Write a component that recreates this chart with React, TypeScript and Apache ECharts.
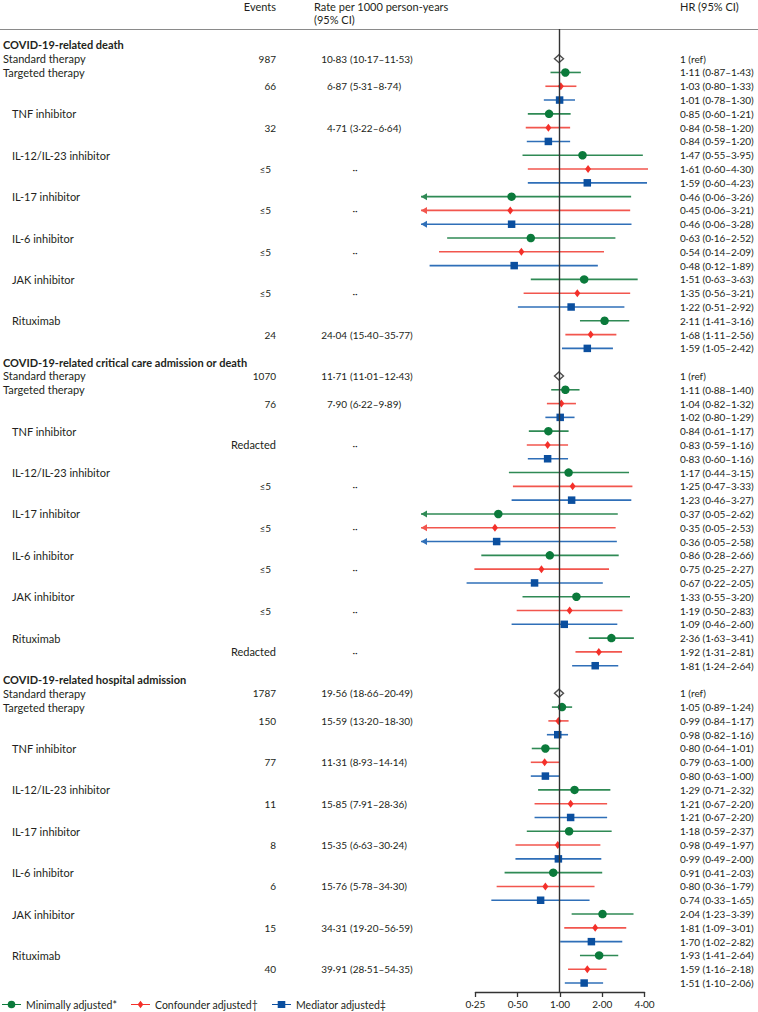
import React, { useEffect, useRef } from "react";
import * as echarts from "echarts";

const SECTIONS = [
  "COVID-19-related death",
  "COVID-19-related critical care admission or death",
  "COVID-19-related hospital admission",
];
const GROUPS = [
  "Targeted therapy",
  "TNF inhibitor",
  "IL-12/IL-23 inhibitor",
  "IL-17 inhibitor",
  "IL-6 inhibitor",
  "JAK inhibitor",
  "Rituximab",
];
const MODELS = ["Minimally adjusted*", "Confounder adjusted†", "Mediator adjusted‡"];

const STANDARD_EVENTS = ["987", "1070", "1787"];
const STANDARD_RATE = [
  [10.83, 10.17, 11.53],
  [11.71, 11.01, 12.43],
  [19.56, 18.66, 20.49],
];

const EVENTS_DEATH = ["66", "32", "≤5", "≤5", "≤5", "≤5", "24"];
const EVENTS_CRITICAL = ["76", "Redacted", "≤5", "≤5", "≤5", "≤5", "Redacted"];
const EVENTS_HOSPITAL = ["150", "77", "11", "8", "6", "15", "40"];

const RATE_DEATH = [[6.87, 5.31, 8.74], [4.71, 3.22, 6.64], null, null, null, null, [24.04, 15.4, 35.77]];
const RATE_CRITICAL = [[7.9, 6.22, 9.89], null, null, null, null, null, null];
const RATE_HOSPITAL = [
  [15.59, 13.2, 18.3],
  [11.31, 8.93, 14.14],
  [15.85, 7.91, 28.36],
  [15.35, 6.63, 30.24],
  [15.76, 5.78, 34.3],
  [34.31, 19.2, 56.59],
  [39.91, 28.51, 54.35],
];

// [HR, lower, upper] per group
const HR_DEATH_MIN = [[1.11, 0.87, 1.43], [0.85, 0.6, 1.21], [1.47, 0.55, 3.95], [0.46, 0.06, 3.26], [0.63, 0.16, 2.52], [1.51, 0.63, 3.63], [2.11, 1.41, 3.16]];
const HR_DEATH_CONF = [[1.03, 0.8, 1.33], [0.84, 0.58, 1.2], [1.61, 0.6, 4.3], [0.45, 0.06, 3.21], [0.54, 0.14, 2.09], [1.35, 0.56, 3.21], [1.68, 1.11, 2.56]];
const HR_DEATH_MED = [[1.01, 0.78, 1.3], [0.84, 0.59, 1.2], [1.59, 0.6, 4.23], [0.46, 0.06, 3.28], [0.48, 0.12, 1.89], [1.22, 0.51, 2.92], [1.59, 1.05, 2.42]];
const HR_CRIT_MIN = [[1.11, 0.88, 1.4], [0.84, 0.61, 1.17], [1.17, 0.44, 3.15], [0.37, 0.05, 2.62], [0.86, 0.28, 2.66], [1.33, 0.55, 3.2], [2.36, 1.63, 3.41]];
const HR_CRIT_CONF = [[1.04, 0.82, 1.32], [0.83, 0.59, 1.16], [1.25, 0.47, 3.33], [0.35, 0.05, 2.53], [0.75, 0.25, 2.27], [1.19, 0.5, 2.83], [1.92, 1.31, 2.81]];
const HR_CRIT_MED = [[1.02, 0.8, 1.29], [0.83, 0.6, 1.16], [1.23, 0.46, 3.27], [0.36, 0.05, 2.58], [0.67, 0.22, 2.05], [1.09, 0.46, 2.6], [1.81, 1.24, 2.64]];
const HR_HOSP_MIN = [[1.05, 0.89, 1.24], [0.8, 0.64, 1.01], [1.29, 0.71, 2.32], [1.18, 0.59, 2.37], [0.91, 0.41, 2.03], [2.04, 1.23, 3.39], [1.93, 1.41, 2.64]];
const HR_HOSP_CONF = [[0.99, 0.84, 1.17], [0.79, 0.63, 1.0], [1.21, 0.67, 2.2], [0.98, 0.49, 1.97], [0.8, 0.36, 1.79], [1.81, 1.09, 3.01], [1.59, 1.16, 2.18]];
const HR_HOSP_MED = [[0.98, 0.82, 1.16], [0.8, 0.63, 1.0], [1.21, 0.67, 2.2], [0.99, 0.49, 2.0], [0.74, 0.33, 1.65], [1.7, 1.02, 2.82], [1.51, 1.1, 2.06]];

const AXIS_MIN = 0.25;
const AXIS_MAX = 4;

const EVENTS = [EVENTS_DEATH, EVENTS_CRITICAL, EVENTS_HOSPITAL];
const RATES = [RATE_DEATH, RATE_CRITICAL, RATE_HOSPITAL];
const HRS = [
  [HR_DEATH_MIN, HR_DEATH_CONF, HR_DEATH_MED],
  [HR_CRIT_MIN, HR_CRIT_CONF, HR_CRIT_MED],
  [HR_HOSP_MIN, HR_HOSP_CONF, HR_HOSP_MED],
];

const FONT = "Lato, 'Noto Sans', sans-serif";
const FS = 11;
const FS_NUM = 10;
const TEXT = "#231f20";
const MARK_COLORS = ["#0b7a3b", "#f4302a", "#0b4f9f"];
const LINE_COLORS = ["#2f8a55", "#f2564e", "#2f6fb8"];
const SYMBOLS = ["circle", "diamond", "rect"];
const SYMBOL_SIZES: any[] = [8.5, [6, 8], 7.5];
const ICONS = [
  "path://M0 3.4H20V4.6H0Z M14 4A4 4 0 1 1 6 4A4 4 0 1 1 14 4Z",
  "path://M0 3.4H20V4.6H0Z M10 0L13 4L10 8L7 4Z",
  "path://M0 3.4H20V4.6H0Z M6 0.3H14V7.7H6Z",
];

const ROWS_PER_SECTION = 23;
const X_MIN = Math.pow(2, -3.262);
const X_MAX = Math.pow(2, 2.3);

const f2 = (v: number) => v.toFixed(2).replace(".", "·");
const hrText = (t: number[]) => `${f2(t[0])} (${f2(t[1])}–${f2(t[2])})`;

type TRow = {
  row: number;
  label?: string;
  bold?: boolean;
  indent?: boolean;
  events?: string;
  rate?: number[] | null;
  showRate?: boolean;
  hr?: string;
};

const tableRows: TRow[] = [];
const refPoints: number[][] = [];
const ciData: number[][][] = [[], [], []];
const ptData: number[][][] = [[], [], []];

SECTIONS.forEach((title, s) => {
  const base = s * ROWS_PER_SECTION;
  tableRows.push({ row: base, label: title, bold: true });
  tableRows.push({
    row: base + 1,
    label: "Standard therapy",
    events: STANDARD_EVENTS[s],
    rate: STANDARD_RATE[s],
    showRate: true,
    hr: "1 (ref)",
  });
  refPoints.push([1, base + 1]);
  GROUPS.forEach((g, gi) => {
    const r0 = base + 2 + 3 * gi;
    tableRows.push({ row: r0, label: g, indent: gi > 0, hr: hrText(HRS[s][0][gi]) });
    tableRows.push({
      row: r0 + 1,
      events: EVENTS[s][gi],
      rate: RATES[s][gi],
      showRate: true,
      hr: hrText(HRS[s][1][gi]),
    });
    tableRows.push({ row: r0 + 2, hr: hrText(HRS[s][2][gi]) });
    for (let m = 0; m < 3; m++) {
      const t = HRS[s][m][gi];
      ciData[m].push([t[1], t[2], r0 + m]);
      ptData[m].push([t[0], r0 + m]);
    }
  });
});

function txt(x: number, y: number, text: string, align: string, bold = false, size = FS) {
  return {
    type: "text",
    x,
    y,
    style: {
      text,
      fill: TEXT,
      fontSize: size,
      fontFamily: FONT,
      fontWeight: bold ? "bold" : "normal",
      align,
      verticalAlign: "middle",
    },
  };
}

export default function App() {
  const ref = useRef<HTMLDivElement>(null);
  useEffect(() => {
    if (!ref.current) return;
    const chart = echarts.init(ref.current, undefined, { renderer: "svg" });

    const ciSeries = MODELS.map((m, i) => ({
      type: "custom",
      name: m + " CI",
      xAxisIndex: 0,
      yAxisIndex: 0,
      silent: true,
      encode: { x: [0, 1], y: 2 },
      data: ciData[i],
      z: 2,
      renderItem: (params: any, api: any) => {
        const lo = api.value(0);
        const hi = api.value(1);
        const row = api.value(2);
        const p1 = api.coord([Math.max(lo, X_MIN), row]);
        const p2 = api.coord([hi, row]);
        const children: any[] = [
          {
            type: "line",
            shape: { x1: p1[0], y1: p1[1], x2: p2[0], y2: p2[1] },
            style: { stroke: LINE_COLORS[i], lineWidth: 1.6 },
          },
        ];
        if (lo < X_MIN) {
          children.push({
            type: "polygon",
            shape: {
              points: [
                [p1[0], p1[1]],
                [p1[0] + 6, p1[1] - 3.5],
                [p1[0] + 6, p1[1] + 3.5],
              ],
            },
            style: { fill: LINE_COLORS[i] },
          });
        }
        return { type: "group", children };
      },
    }));

    const ptSeries = MODELS.map((m, i) => ({
      type: "scatter",
      name: m,
      xAxisIndex: 0,
      yAxisIndex: 0,
      data: ptData[i],
      symbol: SYMBOLS[i],
      symbolSize: SYMBOL_SIZES[i],
      itemStyle: { color: MARK_COLORS[i], opacity: 1 },
      z: 3,
      silent: true,
    }));

    const tableSeries = {
      type: "custom",
      name: "table",
      xAxisIndex: 0,
      yAxisIndex: 0,
      silent: true,
      encode: { x: 0, y: 1 },
      data: tableRows.map((r) => [1, r.row]),
      renderItem: (params: any, api: any) => {
        const r = tableRows[params.dataIndex];
        const y = api.coord([1, api.value(1)])[1];
        const children: any[] = [];
        if (r.label) children.push(txt(r.indent ? 12 : 3, y, r.label, "left", !!r.bold));
        if (r.events) {
          const isText = r.events === "Redacted";
          children.push(
            txt(r.events === "≤5" ? 271 : 276, y, r.events, "right", false, isText ? FS : FS_NUM)
          );
        }
        if (r.showRate) {
          if (r.rate) {
            children.push(txt(347, y, f2(r.rate[0]), "right", false, FS_NUM));
            children.push(txt(350, y, `(${f2(r.rate[1])}–${f2(r.rate[2])})`, "left", false, FS_NUM));
          } else {
            children.push(txt(355, y, "··", "center", false, FS_NUM));
          }
        }
        if (r.hr) children.push(txt(680, y, r.hr, "left", false, FS_NUM));
        return { type: "group", children };
      },
    };

    const option: any = {
      animation: false,
      grid: [
        { left: 421, width: 235.3, top: 29, height: 963, containLabel: false },
        { left: 475.4, width: 169.2, top: 991, height: 1, containLabel: false },
      ],
      xAxis: [
        { type: "log", logBase: 2, gridIndex: 0, min: X_MIN, max: X_MAX, show: false },
        {
          type: "log",
          logBase: 2,
          gridIndex: 1,
          min: AXIS_MIN,
          max: AXIS_MAX,
          position: "bottom",
          axisLine: { show: true, lineStyle: { color: "#333", width: 1.3 } },
          axisTick: { show: true, length: 5, lineStyle: { color: "#333", width: 1.3 } },
          splitLine: { show: false },
          minorTick: { show: false },
          axisLabel: {
            fontSize: FS_NUM,
            fontFamily: FONT,
            color: TEXT,
            margin: 7,
            formatter: (v: number) => f2(v),
          },
        },
      ],
      yAxis: [
        { type: "value", gridIndex: 0, inverse: true, min: -1.15, max: 68.65, show: false },
        { type: "value", gridIndex: 1, show: false },
      ],
      legend: MODELS.map((m, i) => ({
        data: [{ name: m, icon: ICONS[i] }],
        left: [2, 131, 272][i],
        top: 999,
        itemWidth: 19,
        itemHeight: 8,
        itemGap: 0,
        padding: 0,
        selectedMode: false,
        textStyle: { fontSize: 10.5, fontFamily: FONT, color: TEXT },
      })),
      graphic: [
        {
          type: "line",
          shape: { x1: 0, y1: 29.5, x2: 758, y2: 29.5 },
          style: { stroke: "#8a8a8a", lineWidth: 1 },
          silent: true,
        },
        { ...txt(276, 6, "Events", "right"), silent: true },
        { ...txt(314, 6, "Rate per 1000 person-years", "left"), silent: true },
        { ...txt(314, 19.5, "(95% CI)", "left"), silent: true },
        { ...txt(680, 6, "HR (95% CI)", "left"), silent: true },
      ],
      series: [
        tableSeries,
        ...ciSeries,
        ...ptSeries,
        {
          type: "scatter",
          name: "Standard therapy (ref)",
          xAxisIndex: 0,
          yAxisIndex: 0,
          data: refPoints,
          symbol: "diamond",
          symbolSize: [9, 8],
          itemStyle: { color: "#ffffff", borderColor: "#222", borderWidth: 1.4 },
          z: 4,
          silent: true,
          markLine: {
            silent: true,
            symbol: "none",
            label: { show: false },
            lineStyle: { color: "#333", width: 1.4, type: "solid" },
            data: [{ xAxis: 1 }],
          },
        },
      ],
    };
    chart.setOption(option);
    return () => chart.dispose();
  }, []);
  return (
    <div
      ref={ref}
      style={{ position: "absolute", left: 0, top: 0, width: 758, height: 1012, background: "#fff" }}
    />
  );
}
